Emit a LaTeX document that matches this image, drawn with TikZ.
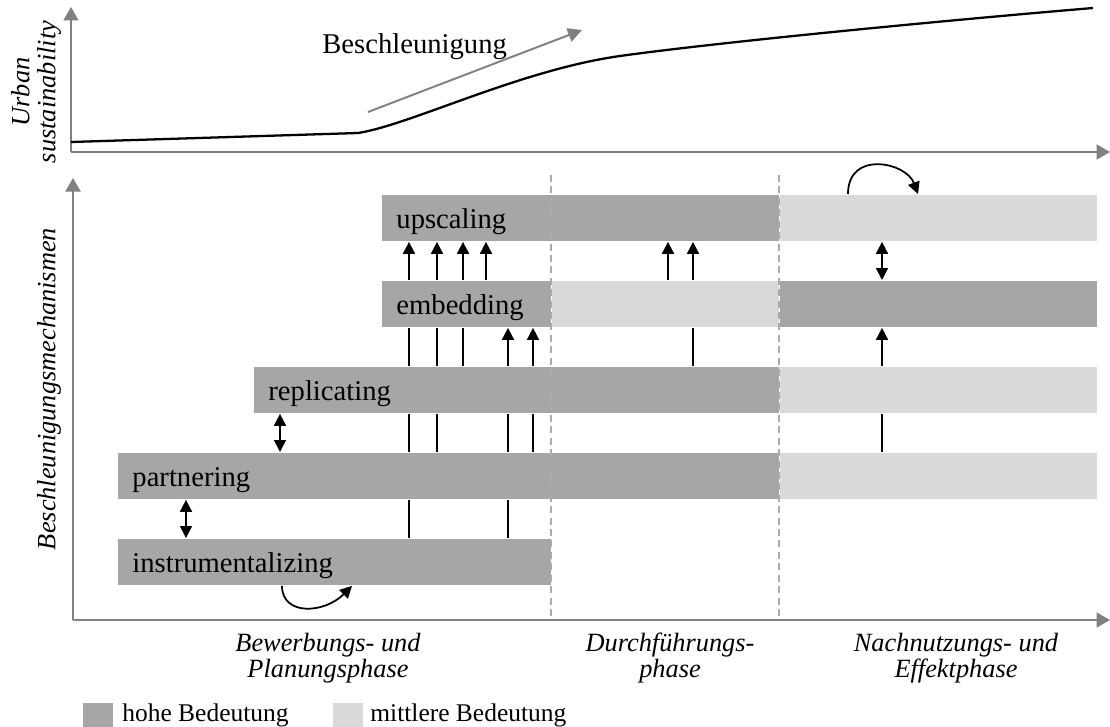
\documentclass[tikz,border=0pt]{standalone}
\usepackage{fontspec}
\setmainfont{Liberation Serif}
\usetikzlibrary{arrows.meta,positioning,backgrounds}
\definecolor{hochgrau}{HTML}{A6A6A6}
\definecolor{mittelgrau}{HTML}{D9D9D9}
\definecolor{achsgrau}{HTML}{808080}
\definecolor{trenngrau}{HTML}{ABABAB}
\newcommand{\balkenfont}{\fontsize{16.3}{18}\selectfont}
\newcommand{\phasenfont}{\fontsize{15}{14.8}\selectfont\itshape}
\newcommand{\legfont}{\fontsize{14.5}{16}\selectfont}
\tikzset{
  hoch/.style={rectangle, fill=hochgrau, draw=white, line width=0.5pt, anchor=north west,
               inner xsep=0.3cm, inner ysep=0pt, text height=0.68cm, text depth=0.26cm,
               align=left, font=\balkenfont},
  mittel/.style={hoch, fill=mittelgrau},
  pfeil/.style={-{Triangle[length=2.4mm,width=2.4mm]}, line width=1pt},
  doppel/.style={{Triangle[length=2.4mm,width=2.4mm]}-{Triangle[length=2.4mm,width=2.4mm]}, line width=1pt},
  achse/.style={-{Triangle[length=2.7mm,width=3mm]}, line width=1.1pt, draw=achsgrau},
  trenn/.style={dash pattern=on 4pt off 2.5pt, line width=0.6pt, draw=trenngrau},
  phase/.style={align=center, font=\phasenfont, inner sep=0pt},
  legtext/.style={anchor=base west, font=\legfont, inner sep=0pt},
}

\begin{document}
\begin{tikzpicture}[x=0.02cm, y=-0.02cm]
  \useasboundingbox (0,0) rectangle (1110,727);

  % oberes Diagramm
  \coordinate (o1) at (71,152);
  \coordinate (y1) at (71,7);
  \coordinate (x1) at (1110,152);
  \draw[achse] (o1) -- (y1);
  \draw[achse] (o1) -- (x1);
  \node[rotate=90, align=center, font=\phasenfont] (us) at (36,92) {Urban\\sustainability};
  \draw[line width=1.3pt] (71,142) -- (358,133)
    .. controls (410,125) and (520,70) .. (620,56)
    .. controls (720,42) and (950,20) .. (1093,8);
  \coordinate (b0) at (368,112);
  \coordinate (b1) at (582,30);
  \draw[-{Triangle[length=2.8mm,width=2.8mm]}, line width=1.1pt, draw=achsgrau] (b0) -- (b1);
  \node[anchor=base west, inner sep=0pt, font=\balkenfont] (besch) at (322,53) {Beschleunigung};

  % unteres Diagramm
  \coordinate (o2) at (73,620);
  \coordinate (y2) at (73,178);
  \coordinate (x2) at (1110,620);
  \draw[achse] (o2) -- (y2);
  \draw[achse] (o2) -- (x2);
  \node[rotate=90, font=\phasenfont] (mech) at (49,389) {Beschleunigungsmechanismen};

  % Balken
  \node[hoch, text width=7.36cm] (up1) at (381,194) {upscaling};
  \node[mittel, minimum width=6.36cm] (up2) at (779,194) {};
  \node[hoch, text width=2.82cm] (em1) at (381,280) {embedding};
  \node[mittel, minimum width=4.56cm] (em2) at (551,280) {};
  \node[hoch, minimum width=6.36cm] (em3) at (779,280) {};
  \node[hoch, text width=9.92cm] (re1) at (253,366) {replicating};
  \node[mittel, minimum width=6.36cm] (re2) at (779,366) {};
  \node[hoch, text width=12.64cm] (pa1) at (117,452) {partnering};
  \node[mittel, minimum width=6.36cm] (pa2) at (779,452) {};
  \node[hoch, text width=8.08cm] (in1) at (117,538) {instrumentalizing};

  % Spalten fuer die Pfeile
  \foreach \n/\x in {a/409,b/437,c/463,d/486,e/508,f/533,g/668,h/693,k/882,l/280,m/186,n/282,o/352,p/848,q/918}
    \coordinate (s\n) at (\x,0);

  \begin{scope}[on background layer]
    \draw[pfeil] (in1.north -| sa) -- (up1.south -| sa);
    \draw[pfeil] (pa1.north -| sb) -- (up1.south -| sb);
    \draw[pfeil] (re1.north -| sc) -- (up1.south -| sc);
    \draw[pfeil] (em1.north -| sd) -- (up1.south -| sd);
    \draw[pfeil] (in1.north -| se) -- (em1.south -| se);
    \draw[pfeil] (pa1.north -| sf) -- (em1.south -| sf);
    \draw[pfeil] (em2.north -| sg) -- (up1.south -| sg);
    \draw[pfeil] (re1.north -| sh) -- (up1.south -| sh);
    \draw[pfeil] (pa2.north -| sk) -- (em3.south -| sk);
  \end{scope}
  \draw[doppel] (em3.north -| sk) -- (up2.south -| sk);
  \draw[doppel] (pa1.north -| sl) -- (re1.south -| sl);
  \draw[doppel] (in1.north -| sm) -- (pa1.south -| sm);
  \draw[pfeil] (in1.south -| sn) .. controls +(0,30) and +(-28,28) .. (in1.south -| so);
  \draw[pfeil] (up2.north -| sp) .. controls +(0,-44) and +(-12,-32) .. (up2.north -| sq);

  % Phasengrenzen
  \coordinate (t1) at (551,175);
  \coordinate (t2) at (779,175);
  \draw[trenn] (t1) -- (t1 |- o2);
  \draw[trenn] (t2) -- (t2 |- o2);

  % Phasen
  \node[phase] (ph1) at (328,658) {Bewerbungs- und\\Planungsphase};
  \node[phase] (ph2) at (670,658) {Durchführungs-\\phase};
  \node[phase] (ph3) at (956,658) {Nachnutzungs- und\\Effektphase};

  % Legende
  \node[hoch, minimum width=0.5cm, minimum height=0.5cm, text height=0pt, text depth=0pt, draw=none] (lg1) at (83,703) {};
  \node[legtext] (lt1) at (122,721) {hohe Bedeutung};
  \node[mittel, minimum width=0.5cm, minimum height=0.5cm, text height=0pt, text depth=0pt, draw=none] (lg2) at (333,703) {};
  \node[legtext] (lt2) at (370,721) {mittlere Bedeutung};
\end{tikzpicture}
\end{document}
